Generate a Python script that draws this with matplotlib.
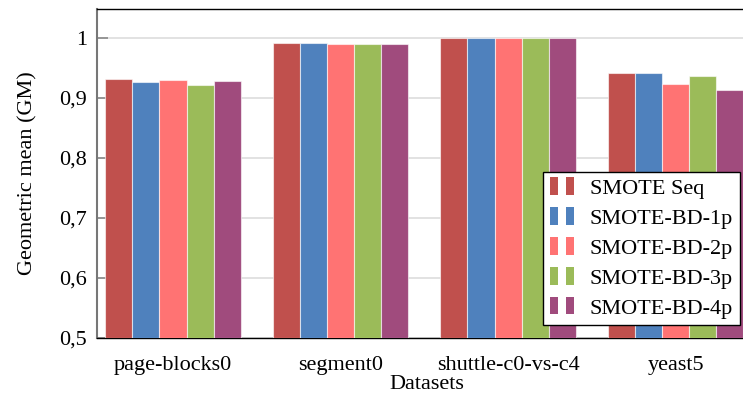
import numpy as np
import matplotlib
matplotlib.use("Agg")
import matplotlib.pyplot as plt
from matplotlib.patches import Rectangle
from matplotlib.legend_handler import HandlerBase

datasets = ["page-blocks0", "segment0", "shuttle-c0-vs-c4", "yeast5"]
methods = ["SMOTE Seq", "SMOTE-BD-1p", "SMOTE-BD-2p", "SMOTE-BD-3p", "SMOTE-BD-4p"]
gm_seq = [0.931, 0.991, 1.000, 0.941]
gm_1p = [0.927, 0.991, 1.000, 0.942]
gm_2p = [0.930, 0.990, 1.000, 0.923]
gm_3p = [0.922, 0.990, 1.000, 0.937]
gm_4p = [0.928, 0.990, 1.000, 0.913]
colors = ["#C0504D", "#4F81BD", "#FF7373", "#9BBB59", "#A04B7D"]

series = [gm_seq, gm_1p, gm_2p, gm_3p, gm_4p]


class TwoBarHandler(HandlerBase):
    # pgfplots-like ybar legend image: two small bars
    def create_artists(self, legend, orig_handle, xdescent, ydescent,
                       width, height, fontsize, trans):
        fc = orig_handle.patches[0].get_facecolor()
        w = width * 0.3
        h = height * 1.15
        y0 = -ydescent - height * 0.05
        r1 = Rectangle((0 - xdescent, y0), w, h, facecolor=fc,
                       edgecolor="none", transform=trans)
        r2 = Rectangle((width * 0.6 - xdescent, y0), w, h, facecolor=fc,
                       edgecolor="none", transform=trans)
        return [r1, r2]


plt.rcParams["font.family"] = ["Liberation Serif", "DejaVu Serif"]
plt.rcParams["font.size"] = 16

fig = plt.figure(figsize=(7.43, 3.98), dpi=100)
ax = fig.add_axes([97 / 743, 60 / 398, 660 / 743, 329 / 398])

x = np.arange(len(datasets))
bw = 0.162
for i, (vals, c) in enumerate(zip(series, colors)):
    ax.bar(x + (i - 2) * bw, np.array(vals) - 0.5, bw, bottom=0.5, color=c,
           edgecolor=(1, 1, 1, 0.6), linewidth=0.8, label=methods[i], zorder=3)

ax.set_xlim(-0.454, 3.486)
ax.set_ylim(0.5, 1.0483)
ax.set_yticks([0.5, 0.6, 0.7, 0.8, 0.9, 1.0])
ax.set_yticklabels(["0,5", "0,6", "0,7", "0,8", "0,9", "1"])
ax.set_xticks(x)
ax.set_xticklabels(datasets)
ax.tick_params(axis="x", length=0, pad=13)
ax.tick_params(axis="y", direction="in", length=8, color="#888888", width=1.2, pad=7)
ax.yaxis.grid(True, color="#DDDDDD", linewidth=1.2, zorder=0)
ax.set_axisbelow(True)

ax.spines["right"].set_visible(False)
ax.spines["left"].set_color("#777777")
ax.spines["left"].set_linewidth(1.5)
ax.spines["bottom"].set_linewidth(1.0)
ax.spines["top"].set_linewidth(1.0)

ax.set_ylabel("Geometric mean (GM)", labelpad=16)
ax.set_xlabel("Datasets", labelpad=0)

handles, labels = ax.get_legend_handles_labels()
leg = ax.legend(handles, labels, loc="upper left", bbox_to_anchor=(0.676, 0.505),
                handler_map={h: TwoBarHandler() for h in handles},
                frameon=True, fancybox=False, framealpha=1, edgecolor="black",
                handlelength=1.2, handletextpad=0.6, labelspacing=0.42,
                borderpad=0.3, borderaxespad=0)
leg.get_frame().set_linewidth(1.0)
leg.set_zorder(5)

fig.savefig("out.png", dpi=100)
